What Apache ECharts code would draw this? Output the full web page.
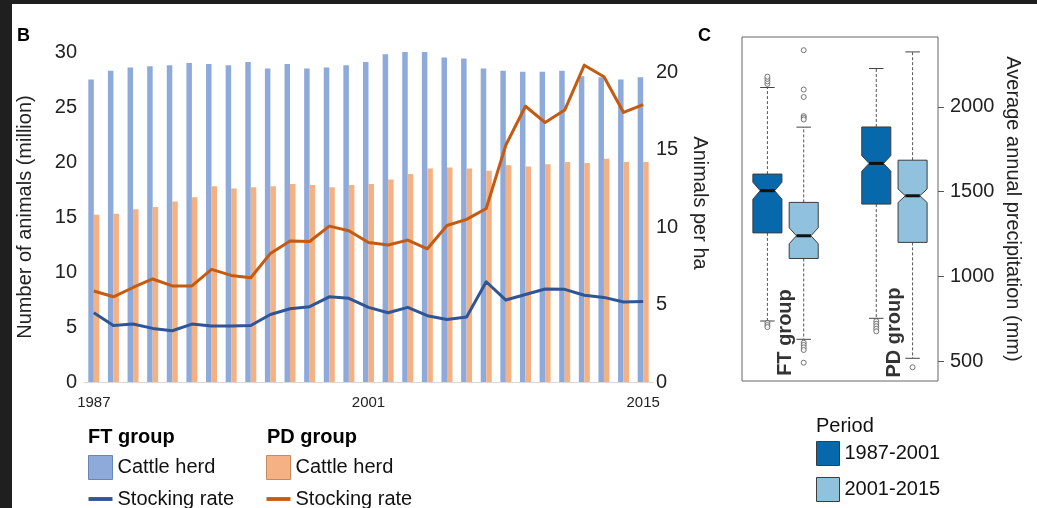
<!DOCTYPE html>
<html>
<head>
<meta charset="utf-8">
<script src="https://cdn.jsdelivr.net/npm/echarts@6/dist/echarts.min.js"></script>
<style>
  html, body { margin: 0; padding: 0; width: 1037px; height: 508px; overflow: hidden; background: #1f1f1f; }
  #chart { position: absolute; left: 12px; top: 4px; width: 1025px; height: 504px; background: #ffffff; }
</style>
</head>
<body>
<div id="chart"></div>
<script>
// ---- Panel B: cattle herd (million head) and stocking rate (animals per ha) ----
const years = ['1987', '1988', '1989', '1990', '1991', '1992', '1993', '1994', '1995', '1996',
  '1997', '1998', '1999', '2000', '2001', '2002', '2003', '2004', '2005', '2006',
  '2007', '2008', '2009', '2010', '2011', '2012', '2013', '2014', '2015'];
const ftHerd = [27.5, 28.3, 28.6, 28.7, 28.8, 29.0, 28.9, 28.8, 29.1, 28.5,
  28.9, 28.5, 28.6, 28.8, 29.1, 29.8, 30.5, 30.3, 29.5, 29.4,
  28.5, 28.3, 28.2, 28.2, 28.3, 27.8, 27.7, 27.5, 27.7];
const pdHerd = [15.2, 15.3, 15.7, 15.9, 16.4, 16.8, 17.8, 17.6, 17.7, 17.8,
  18.0, 17.9, 17.7, 17.9, 18.0, 18.4, 18.9, 19.4, 19.5, 19.4,
  19.2, 19.7, 19.6, 19.8, 20.0, 19.9, 20.3, 20.0, 20.0];
const ftRate = [4.47, 3.65, 3.74, 3.46, 3.31, 3.74, 3.61, 3.61, 3.65, 4.36,
  4.73, 4.86, 5.5, 5.4, 4.82, 4.47, 4.82, 4.28, 4.04, 4.2,
  6.47, 5.29, 5.65, 6.0, 5.98, 5.6, 5.46, 5.16, 5.2];
const pdRate = [5.87, 5.5, 6.1, 6.65, 6.2, 6.2, 7.27, 6.88, 6.73, 8.3,
  9.1, 9.07, 10.06, 9.76, 9.0, 8.84, 9.16, 8.6, 10.1, 10.5,
  11.2, 15.3, 17.8, 16.75, 17.55, 20.45, 19.7, 17.4, 17.9];

// ---- Panel C: average annual precipitation (mm), notched box plots ----
const periodNames = ['1987-2001', '2001-2015'];
const groupNames = ['FT group', 'PD group'];
const groupCenters = [1.5, 4.5];
const boxPositions = [1, 2, 4, 5];
const boxPeriod = [0, 1, 0, 1];
// [lower whisker, Q1, median, Q3, upper whisker]
const boxStats = [
  [736, 1256, 1505, 1603, 2114],
  [628, 1105, 1239, 1436, 1880],
  [752, 1426, 1666, 1881, 2226],
  [516, 1200, 1475, 1685, 2324]
];
const notchHalf = [50, 47, 46, 40];
const outlierValues = [
  [2135, 2150, 2165, 2178, 725, 712, 700],
  [2334, 2102, 2058, 1945, 1935, 1925, 608, 595, 580, 565, 490],
  [735, 720, 705, 690, 675],
  [463]
];
const precipTicks = [500, 1000, 1500, 2000];

const FONT = '"Liberation Sans", Arial, sans-serif';
const COLORS = {
  ftHerd: '#8eaadb', pdHerd: '#f4b183',
  ftRate: '#2f5597', pdRate: '#c55a11',
  period: ['#0868ac', '#90c2de']
};

function stripGroup(name) {
  const parts = name.split(' · ');
  return parts.length > 1 ? parts[1] : name;
}

function periodRows(p) {
  const rows = [];
  boxPositions.forEach((x, i) => {
    if (boxPeriod[i] === p) rows.push([x].concat(boxStats[i], [notchHalf[i]]));
  });
  return rows;
}

const outlierData = [];
outlierValues.forEach((vals, i) => vals.forEach(v => outlierData.push([boxPositions[i], v])));

function renderNotchedBox(params, api) {
  const x = api.value(0);
  const lo = api.value(1), q1 = api.value(2), med = api.value(3), q3 = api.value(4), hi = api.value(5);
  const nh = api.value(6);
  const half = api.size([0.8, 0])[0] / 2;
  const cx = api.coord([x, med])[0];
  const py = v => api.coord([x, v])[1];
  const yq1 = py(q1), yq3 = py(q3), ym = py(med);
  const yn1 = py(med - nh), yn2 = py(med + nh);
  const ylo = py(lo), yhi = py(hi);
  const inner = half / 2;
  const cap = half / 2;
  const pts = [
    [cx - half, yq1], [cx + half, yq1], [cx + half, yn1], [cx + inner, ym], [cx + half, yn2],
    [cx + half, yq3], [cx - half, yq3], [cx - half, yn2], [cx - inner, ym], [cx - half, yn1]
  ];
  const whisker = { stroke: '#555', lineWidth: 1, lineDash: [3, 2] };
  const capStyle = { stroke: '#444', lineWidth: 1 };
  return {
    type: 'group',
    children: [
      { type: 'line', shape: { x1: cx, y1: yq3, x2: cx, y2: yhi }, style: whisker },
      { type: 'line', shape: { x1: cx, y1: yq1, x2: cx, y2: ylo }, style: whisker },
      { type: 'line', shape: { x1: cx - cap, y1: yhi, x2: cx + cap, y2: yhi }, style: capStyle },
      { type: 'line', shape: { x1: cx - cap, y1: ylo, x2: cx + cap, y2: ylo }, style: capStyle },
      { type: 'polygon', shape: { points: pts }, style: { fill: api.visual('color'), stroke: '#3c3c3c', lineWidth: 1 } },
      { type: 'line', shape: { x1: cx - inner, y1: ym, x2: cx + inner, y2: ym }, style: { stroke: '#111', lineWidth: 3 } }
    ]
  };
}

const chart = echarts.init(document.getElementById('chart'));

const textBase = { fontFamily: FONT, color: '#222' };

const option = {
  animation: false,
  textStyle: { fontFamily: FONT },
  grid: [
    { left: 72, top: 48, width: 569, height: 330, outerBoundsMode: 'none', containLabel: false },
    { left: 730, top: 33, width: 196, height: 344, outerBoundsMode: 'none', containLabel: false,
      show: true, borderColor: '#666', borderWidth: 1, backgroundColor: 'transparent' }
  ],
  xAxis: [
    {
      gridIndex: 0, type: 'category', data: years, boundaryGap: true,
      axisLine: { lineStyle: { color: '#d9d9d9', width: 1 } },
      axisTick: { show: false },
      axisLabel: Object.assign({ interval: 13, fontSize: 15, margin: 13 }, textBase),
      splitLine: { show: false }
    },
    { gridIndex: 1, type: 'value', min: 0.3, max: 5.7, show: false }
  ],
  yAxis: [
    {
      gridIndex: 0, type: 'value', min: 0, max: 30, interval: 5,
      axisLine: { show: false }, axisTick: { show: false }, splitLine: { show: false },
      axisLabel: Object.assign({ fontSize: 20, margin: 7 }, textBase),
      name: 'Number of animals (million)', nameLocation: 'middle', nameGap: 49,
      nameTextStyle: Object.assign({ fontSize: 20 }, textBase)
    },
    {
      gridIndex: 0, type: 'value', position: 'right', min: 0, max: 21.3, interval: 5,
      axisLine: { show: false }, axisTick: { show: false }, splitLine: { show: false },
      axisLabel: Object.assign({ fontSize: 20, margin: 3, showMaxLabel: false }, textBase),
      name: 'Animals per ha', nameLocation: 'middle', nameGap: 35, nameRotate: -90,
      nameTextStyle: Object.assign({ fontSize: 20, padding: [0, 28, 0, 0] }, textBase)
    },
    {
      gridIndex: 1, type: 'value', position: 'right', min: 382, max: 2412,
      axisLine: { show: false },
      axisTick: { show: true, inside: false, length: 6, customValues: precipTicks, lineStyle: { color: '#555' } },
      axisLabel: Object.assign({ fontSize: 20, margin: 12, customValues: precipTicks, formatter: v => String(v) }, textBase),
      splitLine: { show: false },
      name: 'Average annual precipitation (mm)', nameLocation: 'middle', nameGap: 65, nameRotate: -90,
      nameTextStyle: Object.assign({ fontSize: 20 }, textBase)
    }
  ],
  legend: [
    {
      orient: 'vertical', left: 76, top: 451, padding: 0, itemWidth: 24, itemHeight: 24, itemGap: 9,
      selectedMode: false, formatter: stripGroup,
      textStyle: { fontFamily: FONT, fontSize: 20, color: '#111' },
      data: [
        { name: 'FT · Cattle herd', icon: 'rect', itemStyle: { borderColor: '#6a84b6', borderWidth: 1 } },
        { name: 'FT · Stocking rate', icon: 'path://M0,0H25V4H0Z' }
      ]
    },
    {
      orient: 'vertical', left: 254, top: 451, padding: 0, itemWidth: 24, itemHeight: 24, itemGap: 9,
      selectedMode: false, formatter: stripGroup,
      textStyle: { fontFamily: FONT, fontSize: 20, color: '#111' },
      data: [
        { name: 'PD · Cattle herd', icon: 'rect', itemStyle: { borderColor: '#c98a5e', borderWidth: 1 } },
        { name: 'PD · Stocking rate', icon: 'path://M0,0H25V4H0Z' }
      ]
    },
    {
      orient: 'vertical', left: 804, top: 437, padding: 0, itemWidth: 23, itemHeight: 24, itemGap: 11,
      selectedMode: false,
      textStyle: { fontFamily: FONT, fontSize: 20, color: '#111' },
      data: periodNames.map(n => ({ name: n, icon: 'rect', itemStyle: { borderColor: '#3c3c3c', borderWidth: 1 } }))
    }
  ],
  graphic: [
    { type: 'text', x: 5, y: 32, style: { text: 'B', font: 'bold 18px ' + FONT, fill: '#000', verticalAlign: 'middle' } },
    { type: 'text', x: 686, y: 32, style: { text: 'C', font: 'bold 18px ' + FONT, fill: '#000', verticalAlign: 'middle' } },
    { type: 'text', x: 76, y: 433, style: { text: 'FT group', font: 'bold 20px ' + FONT, fill: '#000', verticalAlign: 'middle' } },
    { type: 'text', x: 255, y: 433, style: { text: 'PD group', font: 'bold 20px ' + FONT, fill: '#000', verticalAlign: 'middle' } },
    { type: 'text', x: 804, y: 422, style: { text: 'Period', font: '20px ' + FONT, fill: '#111', verticalAlign: 'middle' } }
  ],
  series: [
    {
      name: 'FT · Cattle herd', type: 'bar', xAxisIndex: 0, yAxisIndex: 0, data: ftHerd,
      barWidth: 5.5, barGap: '0%', itemStyle: { color: COLORS.ftHerd }
    },
    {
      name: 'PD · Cattle herd', type: 'bar', xAxisIndex: 0, yAxisIndex: 0, data: pdHerd,
      barWidth: 5.5, barGap: '0%', itemStyle: { color: COLORS.pdHerd }
    },
    {
      name: 'FT · Stocking rate', type: 'line', xAxisIndex: 0, yAxisIndex: 1, data: ftRate,
      symbol: 'none', itemStyle: { color: COLORS.ftRate }, lineStyle: { color: COLORS.ftRate, width: 3, join: 'round' }, z: 4
    },
    {
      name: 'PD · Stocking rate', type: 'line', xAxisIndex: 0, yAxisIndex: 1, data: pdRate,
      symbol: 'none', itemStyle: { color: COLORS.pdRate }, lineStyle: { color: COLORS.pdRate, width: 3, join: 'round' }, z: 4
    },
    ...periodNames.map((n, p) => ({
      name: n, type: 'custom', xAxisIndex: 1, yAxisIndex: 2,
      renderItem: renderNotchedBox, data: periodRows(p),
      encode: { x: 0, y: [1, 2, 3, 4, 5] },
      itemStyle: { color: COLORS.period[p] }, z: 3
    })),
    {
      name: 'outliers', type: 'scatter', xAxisIndex: 1, yAxisIndex: 2, data: outlierData,
      symbol: 'circle', symbolSize: 5,
      itemStyle: { color: '#ffffff', borderColor: '#555', borderWidth: 1 }, z: 4
    },
    {
      name: 'groups', type: 'scatter', xAxisIndex: 1, yAxisIndex: 2,
      data: groupCenters.map((x, i) => ({ value: [x, 668], groupName: groupNames[i] })),
      symbolSize: 0, silent: true, z: 5,
      label: {
        show: true, position: 'inside', rotate: 90,
        formatter: p => groupNames[p.dataIndex],
        fontFamily: FONT, fontSize: 20, fontWeight: 'bold', color: '#000'
      }
    }
  ]
};

chart.setOption(option);
</script>
</body>
</html>
